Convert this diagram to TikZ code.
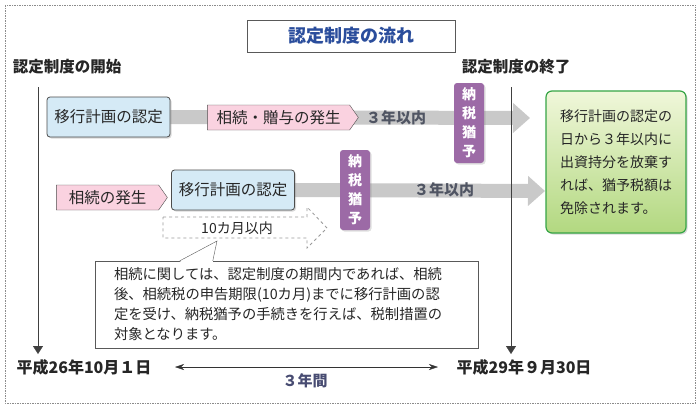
\documentclass[tikz,border=0pt]{standalone}
\usepackage{fontspec}
\setmainfont{Noto Sans CJK JP}
\usetikzlibrary{shapes.symbols,shadows,backgrounds,arrows.meta}
\definecolor{planblue}{HTML}{D5EAF6}
\definecolor{eventpink}{HTML}{FAD2E0}
\definecolor{taxpurple}{HTML}{9C6AA6}
\definecolor{bandgray}{HTML}{C9C9C9}
\definecolor{titleblue}{HTML}{2A4D9C}
\definecolor{leafgreen}{HTML}{36A546}
\definecolor{leaftop}{HTML}{F0F7DA}
\definecolor{leafbottom}{HTML}{B2D880}
\definecolor{periodgray}{HTML}{505563}
\begin{document}
\begin{tikzpicture}
      [x=1pt, y=-1pt,
      every node/.style={text=black!85},
      plan/.style={draw=black!70, thick, fill=planblue, rounded corners=3pt,
        minimum width=123pt, minimum height=40pt, font=\fontsize{15.5}{18}\selectfont,
        drop shadow={opacity=0.3, shadow xshift=1.5pt, shadow yshift=-1.5pt}},
      event/.style={signal, signal to=east, signal pointer angle=110, draw=black!70,
        fill=eventpink, inner sep=1pt, minimum height=25pt, font=\fontsize{15.5}{18}\selectfont},
      defer/.style={fill=taxpurple, rounded corners=3pt, text=white, align=center,
        font=\bfseries\fontsize{14}{19}\selectfont, minimum width=30pt, minimum height=80pt,
        inner sep=1pt, drop shadow={opacity=0.25, shadow xshift=1.5pt, shadow yshift=-1.5pt}},
      band/.style={line width=14pt, draw=bandgray, -{Triangle[length=17pt,width=29pt]}},
      head/.style={font=\bfseries\fontsize{15.5}{18}\selectfont},
      span/.style={font=\bfseries\fontsize{15}{18}\selectfont, text=periodgray},
      ]
      \useasboundingbox (0,0) rectangle (700,410);
      \begin{scope}[on background layer]
        \fill[white] (0,0) rectangle (700,410);
      \end{scope}
      \draw[black!45, dash pattern=on 1.5pt off 1pt] (5,5) rectangle (695,403);

      % title
      \node[draw=black!65, minimum width=208pt, minimum height=32pt,
        font=\bfseries\fontsize{18}{20}\selectfont, text=titleblue] (title) at (351,36) {認定制度の流れ};
      \node[head] (begin) at (67,67) {認定制度の開始};
      \node[head] (finish) at (516,67) {認定制度の終了};

      % first row
      \node[plan] (plan1) at (108.5,117) {移行計画の認定};
      \node[event, minimum width=151pt] (gift) at (278.5,117.5) {相続・贈与の発生};
      \node[span] (within1) at (396,118) {３年以内};
      \node[defer] (defer1) at (469,123) {納\\税\\猶\\予};
      \coordinate (end1) at (530,118);

      % second row
      \node[event, minimum width=111pt] (death) at (107.5,197.5) {相続の発生};
      \node[plan] (plan2) at (233,190) {移行計画の認定};
      \node[defer] (defer2) at (355,190) {納\\税\\猶\\予};
      \node[span] (within2) at (444,190) {３年以内};
      \coordinate (end2) at (545,191);

      \node[font=\fontsize{14}{16}\selectfont] (tenmo) at (237,228) {10カ月以内};
      \draw[black!40, dashed, thick] (163,217) -- (307,217) -- (307,207) -- (327,228)
        -- (307,248) -- (307,238) -- (163,238) -- cycle;

      % result
      \node[draw=leafgreen, very thick, rounded corners=6pt, top color=leaftop,
        bottom color=leafbottom, minimum width=140pt, minimum height=142pt,
        align=left, font=\fontsize{14}{23}\selectfont,
        drop shadow={opacity=0.3, shadow xshift=1.5pt, shadow yshift=-1.5pt}] (result) at (616,162)
        {移行計画の認定の\\日から３年以内に\\出資持分を放棄す\\れば、猶予税額は\\免除されます。};

      % note
      \node[draw=black!65, fill=white, text width=345pt, inner xsep=19pt, minimum height=87pt,
        align=left, font=\fontsize{14.3}{20}\selectfont] (note) at (286.5,304.5)
        {相続に関しては、認定制度の期間内であれば、相続\\後、相続税の申告期限(10カ月)までに移行計画の認\\定を受け、納税猶予の手続きを行えば、税制措置の\\対象となります。};
      \coordinate (tip) at (217,241);
      \fill[white] ([xshift=85pt,yshift=-1pt]note.north west) -- (tip) -- ([xshift=118pt,yshift=-1pt]note.north west) -- cycle;
      \draw[black!65] ([xshift=85pt]note.north west) -- (tip) -- ([xshift=118pt]note.north west);

      % bands
      \begin{scope}[on background layer]
        \draw[band] (plan1.east) -- (end1);
        \draw[band] (plan2.east) -- (end2);
      \end{scope}

      % timeline
      \coordinate (start top) at (38,87);
      \coordinate (start foot) at (38,354);
      \coordinate (end top) at (511,87);
      \coordinate (end foot) at (511,354);
      \draw[black!75, -{Triangle[length=8pt,width=10pt]}] (start top) -- (start foot);
      \draw[black!75, -{Triangle[length=8pt,width=10pt]}] (end top) -- (end foot);
      \node[font=\bfseries\fontsize{16}{18}\selectfont] (date1) at (84,367) {平成26年10月１日};
      \node[font=\bfseries\fontsize{16}{18}\selectfont] (date2) at (524,367) {平成29年９月30日};
      \draw[black!80, {Stealth[length=9pt,width=6pt]}-{Stealth[length=9pt,width=6pt]},
        shorten <=20pt, shorten >=15pt] (date1.east) -- (date2.west);
      \node[font=\bfseries\fontsize{15}{18}\selectfont, text=periodgray!90!blue] (years) at (305,381) {３年間};
\end{tikzpicture}
\end{document}
